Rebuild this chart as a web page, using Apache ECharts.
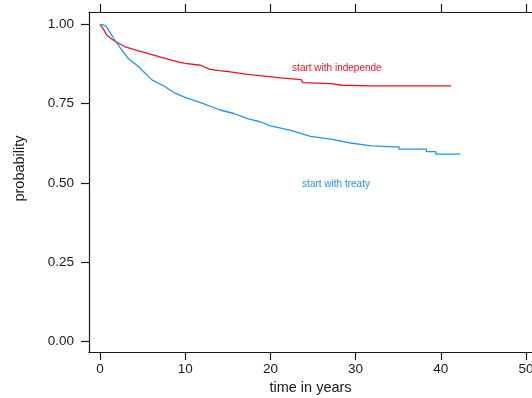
<!DOCTYPE html>
<html>
<head>
<meta charset="utf-8">
<script src="https://cdn.jsdelivr.net/npm/echarts@6/dist/echarts.min.js"></script>
<style>
  html, body { margin: 0; padding: 0; background: #fff; }
  #chart { width: 532px; height: 398px; }
</style>
</head>
<body>
<div id="chart"></div>
<script>
// Survival curves: time in years vs. probability
const independenceCurve = [
  [0, 1.0], [0.4, 0.985], [0.8, 0.966], [1.2, 0.957], [1.8, 0.946], [2.9, 0.930],
  [4.0, 0.920], [5.3, 0.911], [6.3, 0.903], [7.3, 0.895], [8.4, 0.887], [9.4, 0.880],
  [10.0, 0.877], [11.8, 0.871], [12.9, 0.858], [14.0, 0.854], [15.3, 0.850],
  [17.3, 0.842], [19.6, 0.836], [21.2, 0.831], [23.6, 0.826], [23.8, 0.816],
  [27.1, 0.813], [28.4, 0.808], [31.8, 0.806], [41.2, 0.806]
];
const treatyCurve = [
  [0, 1.0], [0.3, 0.999], [0.7, 0.994], [1.1, 0.978], [1.6, 0.956], [2.0, 0.940],
  [2.4, 0.925], [3.3, 0.893], [4.5, 0.867], [5.3, 0.846], [6.1, 0.825], [7.6, 0.804],
  [8.8, 0.783], [10.0, 0.770], [11.8, 0.753], [14.1, 0.730], [15.7, 0.719],
  [17.3, 0.703], [18.8, 0.693], [20.0, 0.680], [22.4, 0.666], [24.7, 0.647],
  [27.1, 0.638], [29.4, 0.626], [30.6, 0.622], [31.8, 0.617], [34.5, 0.614],
  [35.1, 0.614], [35.1, 0.607], [38.3, 0.607], [38.3, 0.599], [39.4, 0.599],
  [39.4, 0.591], [42.3, 0.591]
];
const seriesNames = ['start with independe', 'start with treaty'];
const labelSpots = [[27.8, 0.861], [27.7, 0.497]];
const xTicks = [0, 10, 20, 30, 40, 50];
const yTicks = [0, 0.25, 0.5, 0.75, 1];
const colors = ['#f2111c', '#2196f0'];

const font = '"Liberation Sans", Arial, Helvetica, sans-serif';
const ink = '#1a1a1a';
const axisCommon = {
  type: 'value',
  min: -1.29,
  max: 50.7,
  splitLine: { show: false },
  axisLine: { show: true, onZero: false, lineStyle: { color: ink, width: 1.2 } }
};

const chart = echarts.init(document.getElementById('chart'), null, { renderer: 'canvas' });
chart.setOption({
  animation: false,
  backgroundColor: '#fff',
  grid: { left: 89, top: 12, bottom: 46, right: 0, containLabel: false, outerBoundsMode: 'none' },
  xAxis: [
    Object.assign({}, axisCommon, {
      position: 'bottom',
      name: 'time in years',
      nameLocation: 'middle',
      nameGap: 27,
      nameTextStyle: { fontFamily: font, fontSize: 14.5, color: ink },
      axisTick: { show: true, length: 8, customValues: xTicks, lineStyle: { color: ink, width: 1.2 } },
      axisLabel: { show: true, customValues: xTicks, margin: 10, fontFamily: font, fontSize: 13.5, color: ink }
    }),
    Object.assign({}, axisCommon, {
      position: 'top',
      axisTick: { show: true, length: 8, customValues: xTicks, lineStyle: { color: ink, width: 1.2 } },
      axisLabel: { show: false }
    })
  ],
  yAxis: {
    type: 'value',
    min: -0.0325,
    max: 1.0388,
    splitLine: { show: false },
    name: 'probability',
    nameLocation: 'middle',
    nameGap: 62,
    nameTextStyle: { fontFamily: font, fontSize: 14.5, color: ink, padding: [0, 0, 0, 27] },
    axisLine: { show: true, onZero: false, lineStyle: { color: ink, width: 1.2 } },
    axisTick: { show: true, length: 8, customValues: yTicks, lineStyle: { color: ink, width: 1.2 } },
    axisLabel: {
      show: true, customValues: yTicks, margin: 15,
      fontFamily: font, fontSize: 13.5, color: ink,
      formatter: v => v.toFixed(2)
    }
  },
  series: [independenceCurve, treatyCurve].map((curve, i) => ({
    type: 'line',
    name: seriesNames[i],
    data: curve,
    showSymbol: false,
    symbol: 'none',
    lineStyle: { color: colors[i], width: 1.3 },
    markPoint: {
      symbol: 'circle',
      symbolSize: 0,
      data: [{ coord: labelSpots[i] }],
      label: {
        show: true,
        position: 'inside',
        formatter: seriesNames[i],
        fontFamily: font,
        fontSize: 10,
        color: colors[i]
      }
    }
  }))
});
</script>
</body>
</html>
